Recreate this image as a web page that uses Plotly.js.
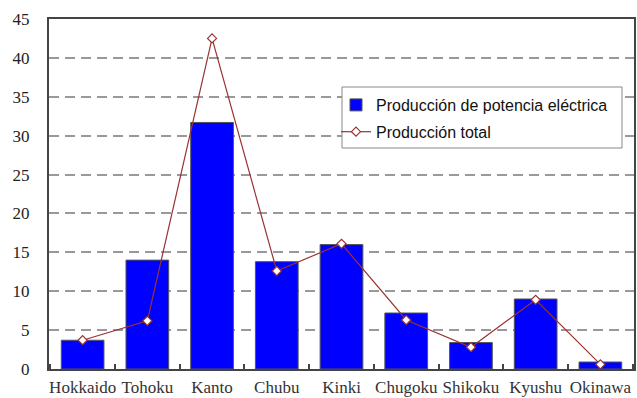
<!DOCTYPE html>
<html>
<head>
<meta charset="utf-8">
<script src="https://cdn.plot.ly/plotly-3.0.1.min.js"></script>
<style>
  html, body { margin: 0; padding: 0; background: #fff; }
  #chart { width: 637px; height: 398px; }
</style>
</head>
<body>
<div id="chart"></div>
<script>
// Regions of Japan
const regions = ["Hokkaido", "Tohoku", "Kanto", "Chubu", "Kinki", "Chugoku", "Shikoku", "Kyushu", "Okinawa"];
// Electric power production per region
const powerProduction = [3.7, 14.0, 31.7, 13.8, 16.0, 7.2, 3.4, 9.0, 0.9];
// Total production per region
const totalProduction = [3.7, 6.2, 42.5, 12.6, 16.1, 6.3, 2.8, 8.9, 0.6];
const yTicks = [0, 5, 10, 15, 20, 25, 30, 35, 40, 45];

const serif = "'Liberation Serif', 'Times New Roman', Times, serif";
const sans = "'Liberation Sans', Arial, Helvetica, sans-serif";

const bars = {
  type: "bar",
  name: "Producción de potencia eléctrica",
  legendgroup: "power",
  x: regions,
  y: powerProduction,
  marker: { color: "#0000ff", line: { color: "#555", width: 1 } },
  hoverinfo: "x+y"
};

const line = {
  type: "scatter",
  mode: "lines+markers",
  name: "Producción total",
  legendgroup: "total",
  x: regions,
  y: totalProduction,
  line: { color: "#993333", width: 1.2 },
  marker: { symbol: "diamond", size: 7, color: "#ffffff", line: { color: "#993333", width: 1.2 } }
};

// Plot area spans 49..634 px horizontally and 19..369 px vertically
const px2x = p => (p - 49) / 585;
const px2y = p => (369 - p) / 350;

const layout = {
  width: 637,
  height: 398,
  margin: { l: 49, r: 3, t: 19, b: 29 },
  paper_bgcolor: "#ffffff",
  plot_bgcolor: "#ffffff",
  bargap: 0.34,
  showlegend: true,
  // white box behind the legend entries
  shapes: [{
    type: "rect", xref: "paper", yref: "paper", layer: "above",
    x0: px2x(342), x1: px2x(622), y0: px2y(148), y1: px2y(87),
    fillcolor: "#ffffff", line: { color: "#888", width: 1 }
  }],
  legend: {
    x: px2x(336), y: px2y(88), xanchor: "left", yanchor: "top",
    bgcolor: "rgba(0,0,0,0)",
    borderwidth: 0,
    font: { family: sans, size: 16, color: "#111" },
    traceorder: "grouped",
    tracegroupgap: 3,
    itemwidth: 30
  },
  xaxis: {
    type: "category",
    showline: true,
    linecolor: "#444",
    linewidth: 2,
    mirror: true,
    ticks: "inside",
    ticklen: 5,
    tickwidth: 2,
    tickcolor: "#444",
    tickson: "boundaries",
    tickangle: 0,
    ticklabelstandoff: 2,
    showgrid: false,
    tickfont: { family: serif, size: 17, color: "#333" }
  },
  yaxis: {
    range: [0, 45],
    tickvals: yTicks,
    ticktext: yTicks.map(String),
    showline: true,
    linecolor: "#444",
    linewidth: 2,
    mirror: true,
    ticks: "",
    ticklabelstandoff: 14,
    showgrid: true,
    gridcolor: "#999",
    gridwidth: 2,
    griddash: "10px,6px",
    zeroline: false,
    tickfont: { family: serif, size: 17, color: "#222" }
  }
};

Plotly.newPlot("chart", [bars, line], layout, { displayModeBar: false, staticPlot: true });
</script>
</body>
</html>
